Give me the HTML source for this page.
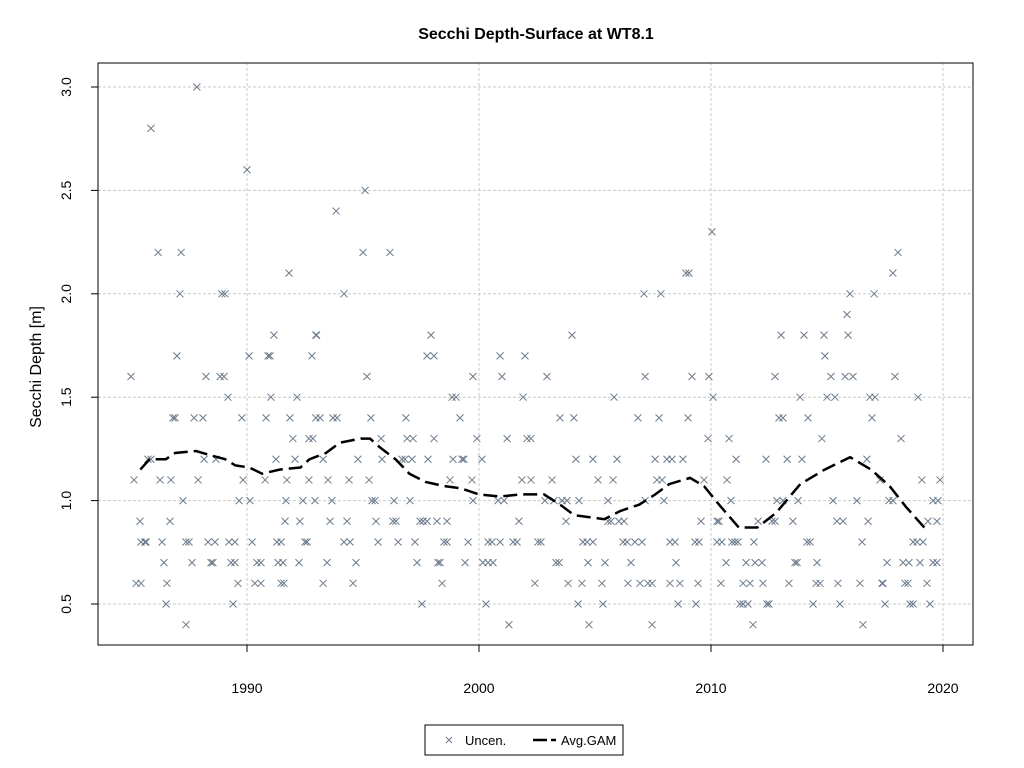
<!DOCTYPE html>
<html><head><meta charset="utf-8"><style>
body{margin:0;background:#fff;}
svg{display:block;font-family:"Liberation Sans",sans-serif;}
</style></head><body>
<svg id="chart" width="1024" height="768">
<text x="536" y="39" text-anchor="middle" font-size="16" font-weight="bold">Secchi Depth-Surface at WT8.1</text>
<text transform="translate(41,367) rotate(-90)" text-anchor="middle" font-size="16">Secchi Depth [m]</text>
<g id="grid"></g>
<g id="ticks"></g>
<g id="points"></g>
<path id="gam" fill="none" stroke="#000" stroke-width="2.5" stroke-dasharray="14,6"/>
<rect x="98" y="63" width="875" height="582" fill="none" stroke="#000" stroke-width="1"/>
<g>
<rect x="425" y="725" width="198" height="30" fill="#fff" stroke="#000"/>
<g>
<path d="M446 737l6 6M452 737l-6 6" stroke="#6b7b8c" stroke-width="1"/>
<text x="465" y="745" font-size="13">Uncen.</text></g>
<g>
<path d="M533 740h14M551 740h5" stroke="#000" stroke-width="2.5"/>
<text x="561" y="745" font-size="13">Avg.GAM</text></g>
</g>
</svg>
<script>
const xTicks=[1990,2000,2010,2020];
const yTicks=[0.5,1.0,1.5,2.0,2.5,3.0];
const ptYears=[
[1987.84],[1985.86],[1990.0],[1995.09],[1993.84],[2010.04],
[1986.17,1987.16,1995.0,1996.16,2018.06],
[1991.81,2008.92,2009.05,2017.84],
[1987.11,1988.92,1989.05,1994.18,2007.11,2007.84,2015.99,2017.03],
[2015.86],
[1991.16,1992.97,1993.0,1997.93,2004.01,2013.02,2014.01,2014.87,2015.91],
[1986.98,1990.09,1990.91,1990.99,1992.8,1997.76,1998.06,2000.91,2001.98,2014.91],
[1985.0,1988.23,1988.84,1989.01,1995.17,1999.74,2000.99,2002.93,2007.16,2009.18,2009.91,2012.76,2015.17,2015.78,2016.12,2017.93],
[1989.18,1991.03,1992.16,1998.84,1999.01,2001.9,2005.82,2010.09,2013.84,2015.0,2015.34,2016.85,2017.07,2018.92],
[1986.81,1986.9,1987.72,1988.1,1989.78,1990.82,1991.85,1992.97,1993.15,1993.71,1993.88,1995.34,1996.85,1999.18,2003.49,2004.09,2006.85,2007.76,2009.01,2012.93,2013.1,2014.18,2016.94],
[1991.98,1992.67,1992.84,1995.78,1996.9,1997.16,1998.06,1999.91,2001.21,2002.07,2002.24,2009.87,2010.78,2014.78,2018.19],
[1985.73,1985.86,1988.15,1988.66,1991.25,1992.07,1993.28,1994.78,1995.82,1996.68,1996.81,1997.11,1997.8,1998.88,1999.27,1999.35,2000.13,2004.18,2004.91,2005.95,2007.59,2008.1,2008.32,2008.79,2011.08,2012.37,2013.28,2013.92,2016.72],
[1985.13,1986.25,1986.72,1987.89,1989.83,1990.78,1991.72,1992.67,1993.49,1994.4,1995.26,1998.75,1999.7,2001.85,2002.24,2003.15,2005.13,2005.78,2007.67,2007.89,2009.7,2010.69,2017.28,2019.09,2019.87],
[1987.24,1989.66,1990.13,1991.68,1992.41,1992.93,1993.66,1995.39,1995.52,1996.34,1997.03,1999.74,2000.82,2001.08,2002.84,2003.23,2003.58,2003.79,2004.31,2005.56,2007.16,2007.97,2010.86,2012.84,2013.1,2013.75,2015.26,2016.29,2017.67,2017.84,2019.57,2019.78],
[1985.39,1986.68,1991.64,1992.28,1993.58,1994.31,1995.56,1996.29,1996.42,1997.46,1997.59,1997.76,1998.19,1998.62,2001.72,2003.75,2005.56,2005.69,2006.03,2006.25,2009.57,2010.26,2010.34,2012.03,2012.63,2012.76,2013.53,2015.43,2015.69,2016.77,2019.35,2019.74],
[1985.43,1985.6,1985.65,1986.34,1987.37,1987.5,1988.32,1988.62,1989.22,1989.48,1990.22,1991.29,1991.47,1992.5,1992.59,1994.18,1994.44,1995.65,1996.51,1997.24,1998.49,1998.62,1999.53,2000.39,2000.56,2000.91,2001.47,2001.64,2002.54,2002.67,2004.48,2004.66,2004.91,2006.21,2006.38,2006.72,2007.03,2008.23,2008.45,2009.31,2009.48,2010.26,2010.47,2010.9,2011.03,2011.16,2011.85,2014.14,2014.27,2016.51,2018.71,2018.88,2019.14],
[1986.42,1987.63,1988.45,1988.53,1989.31,1989.48,1990.43,1990.6,1991.34,1991.55,1992.24,1993.45,1994.7,1997.33,1998.23,1998.32,1999.4,2000.17,2000.39,2000.6,2003.32,2003.45,2004.7,2005.43,2006.55,2008.49,2010.65,2011.51,2011.9,2012.2,2013.62,2013.71,2014.57,2017.59,2018.28,2018.53,2019.01,2019.57,2019.74],
[1985.22,1985.43,1986.55,1989.61,1990.34,1990.6,1991.47,1991.59,1993.28,1994.57,1998.41,2002.41,2003.84,2004.44,2005.3,2006.42,2006.94,2007.28,2007.46,2008.23,2008.66,2009.44,2010.43,2011.38,2011.68,2012.24,2013.36,2014.53,2014.7,2015.47,2016.42,2017.37,2017.41,2018.36,2018.49,2019.31],
[1986.51,1989.4,1997.54,2000.3,2004.27,2005.34,2008.58,2009.35,2011.25,2011.38,2011.59,2012.41,2012.5,2014.4,2015.56,2017.5,2018.58,2018.71,2019.44],
[1987.37,2001.29,2004.74,2007.46,2011.81,2016.55]
];
const ptValues=[3.0,2.8,2.6,2.5,2.4,2.3,2.2,2.1,2.0,1.9,1.8,1.7,1.6,1.5,1.4,1.3,1.2,1.1,1.0,0.9,0.8,0.7,0.6,0.5,0.4];
const gamYears=[1985.4,1985.8,1986.5,1986.9,1987.8,1988.4,1989.05,1989.5,1990.1,1990.65,1991.4,1992.3,1992.7,1993.4,1994,1994.9,1995.3,1995.7,1996.4,1997,1997.7,1998.5,1999.2,2000,2000.9,2001.8,2002.8,2003.5,2004.1,2005.4,2006.1,2006.9,2007.6,2008.2,2009.1,2009.7,2010.35,2011.2,2012,2012.8,2013.85,2014.9,2016,2016.9,2017.7,2018.4,2019.35];
const gamValues=[1.15,1.2,1.2,1.23,1.24,1.22,1.2,1.17,1.16,1.13,1.15,1.16,1.2,1.23,1.28,1.3,1.3,1.26,1.2,1.13,1.09,1.07,1.06,1.03,1.02,1.03,1.03,0.98,0.93,0.91,0.95,0.98,1.03,1.08,1.11,1.07,0.98,0.87,0.87,0.94,1.08,1.15,1.21,1.15,1.07,0.97,0.85];

const NS='http://www.w3.org/2000/svg';
const sx=y=>247+(y-1990)*23.2;
const sy=v=>604-(v-0.5)*206.8;
function mk(tag,attrs,parent){const e=document.createElementNS(NS,tag);for(const k in attrs)e.setAttribute(k,attrs[k]);parent.appendChild(e);return e;}
const grid=document.getElementById('grid'),ticks=document.getElementById('ticks'),pts=document.getElementById('points');
xTicks.forEach(t=>{
  const g=mk('line',{x1:sx(t),x2:sx(t),y1:63,y2:645,stroke:'#c8c8c8','stroke-dasharray':'3,2'},grid);
  
  
  const tk=mk('line',{x1:sx(t),x2:sx(t),y1:645,y2:652,stroke:'#000'},ticks);
  
  
  const lb=mk('text',{x:sx(t),y:693,'text-anchor':'middle','font-size':'14'},ticks);
  lb.textContent=t;
  
  
});
yTicks.forEach(t=>{
  const g=mk('line',{x1:98,x2:973,y1:sy(t),y2:sy(t),stroke:'#c8c8c8','stroke-dasharray':'3,2'},grid);
  
  
  const tk=mk('line',{x1:91,x2:98,y1:sy(t),y2:sy(t),stroke:'#000'},ticks);
  
  
  const lb=mk('text',{transform:`translate(71,${sy(t)}) rotate(-90)`,'text-anchor':'middle','font-size':'14'},ticks);
  lb.textContent=t.toFixed(1);
  
  
});
ptValues.forEach((v,i)=>{
  ptYears[i].forEach(yr=>{
    const x=sx(yr),y=sy(v);
    const p=mk('path',{d:`M${x-3.5} ${y-3.5}l7 7M${x+3.5} ${y-3.5}l-7 7`,stroke:'#6b7b8c','stroke-width':'1'},pts);
    
    
  });
});
document.getElementById('gam').setAttribute('d',gamYears.map((yr,i)=>(i?'L':'M')+sx(yr).toFixed(1)+' '+sy(gamValues[i]).toFixed(1)).join(''));
</script>
</body></html>
